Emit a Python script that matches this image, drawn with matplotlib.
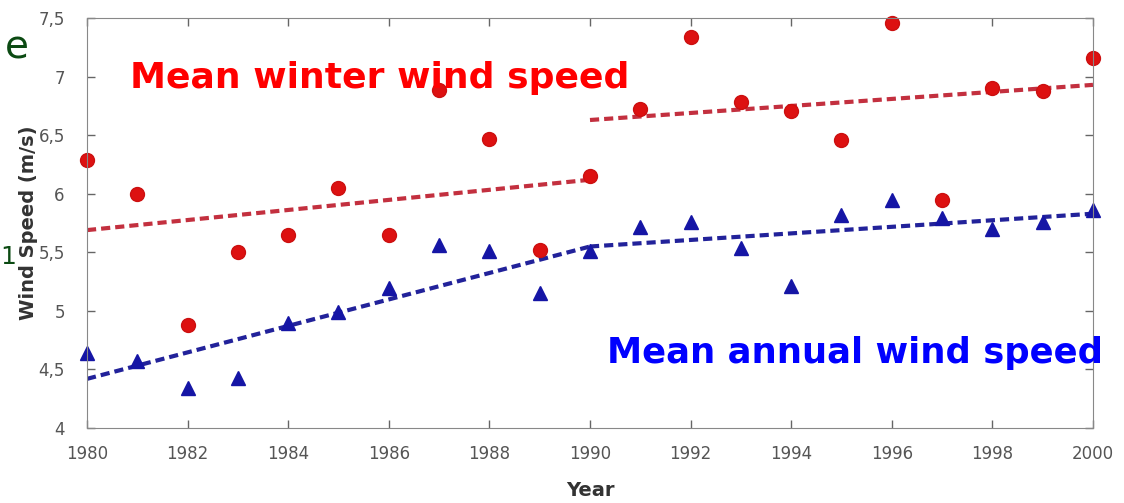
import numpy as np
import matplotlib.pyplot as plt

# yearly means, 1980-2000
years = list(range(1980, 2001))
winter = [6.29, 6.00, 4.88, 5.50, 5.65, 6.05, 5.65, 6.89, 6.47, 5.52, 6.15,
          6.72, 7.34, 6.78, 6.71, 6.46, 7.46, 5.95, 6.90, 6.88, 7.16]
annual = [4.64, 4.57, 4.34, 4.43, 4.90, 4.99, 5.20, 5.56, 5.51, 5.15, 5.51,
          5.72, 5.76, 5.54, 5.21, 5.82, 5.95, 5.79, 5.70, 5.76, 5.86]

# linear trends for the two decades
trend_years = [[1980, 1990], [1990, 2000]]
winter_trend = [[5.69, 6.12], [6.63, 6.93]]
annual_trend = [[4.42, 5.55], [5.55, 5.83]]

fig = plt.figure(figsize=(11.24, 5.03), dpi=100)
ax = fig.add_axes([0.0774, 0.149, 0.895, 0.815])

for xs, ys in zip(trend_years, winter_trend):
    ax.plot(xs, ys, '--', color='#c3303f', lw=3, dashes=(2.2, 1.2))
for xs, ys in zip(trend_years, annual_trend):
    ax.plot(xs, ys, '--', color='#22229a', lw=3, dashes=(2.2, 1.2))

ax.plot(years, winter, 'o', color='#dd1111', ms=10, mec='#cc1010', clip_on=False)
ax.plot(years, annual, '^', color='#1515a5', ms=10, mec='#1515a5', clip_on=False)

ax.set_xlim(1980, 2000)
ax.set_ylim(4, 7.5)
ax.set_xticks(range(1980, 2001, 2))
ax.set_yticks([4, 4.5, 5, 5.5, 6, 6.5, 7, 7.5])
ax.set_yticklabels(['4', '4,5', '5', '5,5', '6', '6,5', '7', '7,5'])
ax.tick_params(direction='in', top=True, right=True, length=6, width=1,
               color='#666666', labelsize=12, labelcolor='#555555')
ax.tick_params(axis='x', pad=12)
ax.tick_params(axis='y', pad=16)
for s in ax.spines.values():
    s.set_color('#888888')

ax.set_xlabel('Year', fontsize=14, fontweight='bold', color='#333333', labelpad=13)
ax.set_ylabel('Wind Speed (m/s)', fontsize=14, fontweight='bold', color='#333333', labelpad=0)

ax.text(1980.85, 6.99, 'Mean winter wind speed', color='#ff0000', fontsize=26,
        fontweight='bold', va='center', ha='left')
ax.text(2000.2, 4.64, 'Mean annual wind speed', color='#0000ff', fontsize=25.5,
        fontweight='bold', va='center', ha='right')

# slide text peeking in at the left edge
fig.text(0.026, 0.905, 'e', color='#0b4a12', fontsize=28, ha='right', va='center')
fig.text(0.0, 0.49, '1', color='#0b4a12', fontsize=18, ha='left', va='center')

fig.savefig('out.png', dpi=100)
